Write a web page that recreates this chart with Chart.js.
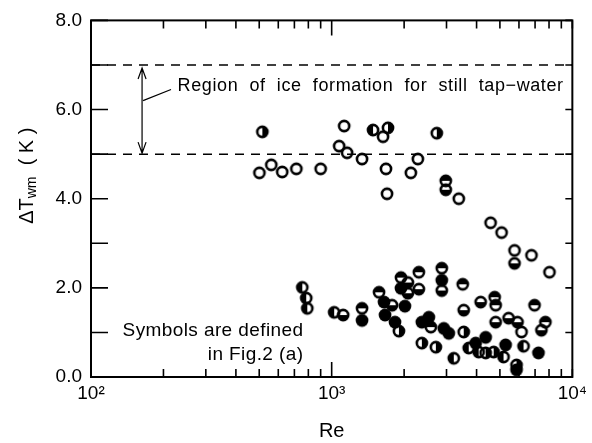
<!DOCTYPE html>
<html>
<head>
<meta charset="utf-8">
<script src="https://cdn.jsdelivr.net/npm/chart.js@4/dist/chart.umd.min.js"></script>
<style>
  body { margin: 0; background: #fff; }
  canvas { display: block; }
</style>
</head>
<body>
<canvas id="chart" width="592" height="443"></canvas>
<script>
// open circles
const reOpen = [501, 561, 623, 713, 900, 1127, 1074, 1159, 1337, 1634, 1681, 1698, 2133, 2280, 3374, 4575, 5083, 5750, 6762, 8035, 6150];
const dtOpen = [4.58, 4.76, 4.60, 4.67, 4.67, 5.63, 5.18, 5.03, 4.89, 5.39, 4.67, 4.11, 4.58, 4.89, 4.00, 3.46, 3.24, 2.84, 2.73, 2.35, 1.01];
// filled circles
const reFilled = [1650, 1666, 1832, 1940, 2015, 2370, 2533, 2868, 2923, 3066, 3966, 4363, 5279, 5863, 7231, 1337];
const dtFilled = [1.68, 1.39, 1.23, 1.99, 1.59, 1.23, 1.34, 2.17, 1.09, 0.98, 0.76, 0.89, 0.72, 0.16, 0.54, 1.27];
// half filled: top / bottom / left / right
const reTop = [2980, 2303, 2868, 3504, 1337, 1573, 4754, 6962, 7728, 1940, 2582, 4800];
const dtTop = [4.40, 2.35, 2.44, 2.08, 1.54, 1.90, 1.79, 1.61, 1.23, 2.23, 1.12, 1.61];
const reBottom = [2980, 5750, 1116, 1781, 2074, 2303, 2868, 4159, 4800, 5433, 5920, 7437, 3538, 2074];
const dtBottom = [4.20, 2.55, 1.39, 1.61, 1.88, 1.97, 1.94, 1.68, 1.23, 1.32, 1.23, 1.05, 1.50, 2.12];
const reLeft = [1485, 755, 784, 792, 1024, 3216, 3710, 4081, 5178, 6269];
const dtLeft = [5.54, 2.01, 1.77, 1.54, 1.45, 0.42, 0.65, 0.56, 0.45, 0.69];
const reRight = [515, 2734, 1903, 2370, 2709, 3538, 4363, 4709, 5863, 1714];
const dtRight = [5.50, 5.47, 1.03, 0.76, 0.67, 1.01, 0.54, 0.56, 0.27, 5.59];

// ice formation band limits
const iceLimits = [7, 5];
const reRange = [100, 10000];
const arrowRe = 163;

const xTicks = [100, 200, 300, 400, 500, 600, 700, 800, 900, 1000, 2000, 3000, 4000, 5000, 6000, 7000, 8000, 9000, 10000];
const xLabels = { 100: '10\u00b2', 1000: '10\u00b3', 10000: '10\u2074' };
const yTicks = [0, 1, 2, 3, 4, 5, 6, 7, 8];

function makeSymbol(kind) {
    const s = 18, m = s / 2, r = 5.1;
    const c = document.createElement('canvas');
    c.width = s; c.height = s;
    const g = c.getContext('2d');
    g.fillStyle = '#000';
    g.strokeStyle = '#000';
    if (kind === 'filled') {
        g.beginPath(); g.arc(m, m, r + 1.3, 0, 2 * Math.PI); g.fill();
        return c;
    }
    const arcs = {
        top: [Math.PI, 2 * Math.PI],
        bottom: [0, Math.PI],
        left: [Math.PI / 2, 1.5 * Math.PI],
        right: [-Math.PI / 2, Math.PI / 2],
    };
    if (arcs[kind]) {
        g.beginPath(); g.arc(m, m, r, arcs[kind][0], arcs[kind][1]); g.closePath(); g.fill();
    }
    g.beginPath(); g.arc(m, m, r, 0, 2 * Math.PI); g.lineWidth = 2.6; g.stroke();
    return c;
}

const pts = (xs, ys) => xs.map((x, i) => ({ x: x, y: ys[i] }));
const symbolSet = (xs, ys, kind) => ({
    data: pts(xs, ys),
    pointStyle: makeSymbol(kind),
    showLine: false,
});
const dashed = (y) => ({
    data: reRange.map(x => ({ x: x, y: y })),
    showLine: true,
    borderColor: '#000',
    borderWidth: 1.5,
    borderDash: [9, 7],
    pointRadius: 0,
});

// frame, inward ticks, arrow, notes, y title
const framePlugin = {
    id: 'frame',
    afterDraw(chart) {
        const { ctx, chartArea: a, scales: { x, y } } = chart;
        ctx.save();
        ctx.strokeStyle = '#000';
        ctx.fillStyle = '#000';
        ctx.lineWidth = 2;
        ctx.strokeRect(a.left, a.top, a.right - a.left, a.bottom - a.top);

        ctx.lineWidth = 1.6;
        ctx.beginPath();
        xTicks.forEach(v => {
            const px = x.getPixelForValue(v);
            const len = v === 1000 ? 15 : 8;
            ctx.moveTo(px, a.bottom); ctx.lineTo(px, a.bottom - len);
            ctx.moveTo(px, a.top); ctx.lineTo(px, a.top + len);
        });
        yTicks.forEach(v => {
            const py = y.getPixelForValue(v);
            ctx.moveTo(a.left, py); ctx.lineTo(a.left + 17, py);
            ctx.moveTo(a.right, py); ctx.lineTo(a.right - 7, py);
        });
        ctx.stroke();

        // double arrow between the dashed lines
        const ax = x.getPixelForValue(arrowRe);
        const y1 = y.getPixelForValue(iceLimits[0]) + 3;
        const y2 = y.getPixelForValue(iceLimits[1]) - 1;
        ctx.lineWidth = 1.2;
        ctx.beginPath();
        ctx.moveTo(ax, y1); ctx.lineTo(ax, y2);
        ctx.moveTo(ax - 4, y1 + 11); ctx.lineTo(ax, y1); ctx.lineTo(ax + 4, y1 + 11);
        ctx.moveTo(ax - 4, y2 - 11); ctx.lineTo(ax, y2); ctx.lineTo(ax + 4, y2 - 11);
        // leader to the note
        ctx.moveTo(ax + 1, y.getPixelForValue(6.2));
        ctx.lineTo(x.getPixelForValue(215), y.getPixelForValue(6.45));
        ctx.stroke();

        ctx.font = '18px "Liberation Sans", Arial, sans-serif';
        ctx.textBaseline = 'middle';
        ctx.textAlign = 'left';
        ctx.letterSpacing = '0.6px';
        ctx.fillText('Region  of  ice  formation  for  still  tap\u2212water', x.getPixelForValue(229), y.getPixelForValue(6.52));
        ctx.font = '19px "Liberation Sans", Arial, sans-serif';
        ctx.letterSpacing = '0.4px';
        ctx.textAlign = 'right';
        ctx.fillText('Symbols are defined', x.getPixelForValue(763), y.getPixelForValue(1.03));
        ctx.fillText('in Fig.2 (a)', x.getPixelForValue(763), y.getPixelForValue(0.51));
        ctx.letterSpacing = '0px';

        // y axis title with subscript
        ctx.translate(27, (a.top + a.bottom) / 2 - 23);
        ctx.rotate(-Math.PI / 2);
        ctx.textAlign = 'left';
        ctx.textBaseline = 'middle';
        const big = '20px "Liberation Sans", Arial, sans-serif';
        const small = '14px "Liberation Sans", Arial, sans-serif';
        ctx.font = big;
        const w1 = ctx.measureText('\u0394T').width;
        ctx.font = small;
        const w2 = ctx.measureText('wm').width;
        ctx.font = big;
        const w3 = ctx.measureText('  ( K )').width;
        let sx = -(w1 + w2 + w3) / 2;
        ctx.fillText('\u0394T', sx, 0);
        ctx.font = small;
        ctx.fillText('wm', sx + w1, 5);
        ctx.font = big;
        ctx.fillText('  ( K )', sx + w1 + w2, 0);
        ctx.restore();
    }
};

const config = {
    type: 'scatter',
    data: {
        datasets: [
            dashed(iceLimits[0]),
            dashed(iceLimits[1]),
            symbolSet(reOpen, dtOpen, 'open'),
            symbolSet(reFilled, dtFilled, 'filled'),
            symbolSet(reTop, dtTop, 'top'),
            symbolSet(reBottom, dtBottom, 'bottom'),
            symbolSet(reLeft, dtLeft, 'left'),
            symbolSet(reRight, dtRight, 'right'),
        ]
    },
    options: {
        responsive: false,
        animation: false,
        layout: { padding: { top: 19, right: 18, left: 0, bottom: 0 } },
        scales: {
            x: {
                type: 'logarithmic',
                min: reRange[0],
                max: reRange[1],
                grid: { display: false, drawTicks: false },
                border: { display: false },
                afterBuildTicks: (scale) => { scale.ticks = xTicks.map(v => ({ value: v })); },
                afterFit: (scale) => { scale.height = 66; },
                ticks: {
                    autoSkip: false,
                    maxRotation: 0,
                    padding: 5,
                    color: '#000',
                    font: { size: 19, family: '"Liberation Sans", Arial, sans-serif' },
                    callback: (v) => xLabels[v] || '',
                },
                title: {
                    display: true,
                    text: 'Re',
                    color: '#000',
                    padding: { top: 0, bottom: 0 },
                    font: { size: 20, family: '"Liberation Sans", Arial, sans-serif' },
                },
            },
            y: {
                min: 0,
                max: 8,
                grid: { display: false, drawTicks: false },
                border: { display: false },
                afterFit: (scale) => { scale.width = 91; },
                ticks: {
                    stepSize: 1,
                    padding: 9,
                    color: '#000',
                    font: { size: 19, family: '"Liberation Sans", Arial, sans-serif' },
                    callback: (v) => (v % 2 === 0 ? v.toFixed(1) : ''),
                },
            },
        },
        plugins: {
            legend: { display: false },
            tooltip: { enabled: false },
        },
    },
    plugins: [framePlugin],
};

const ctx = document.getElementById('chart').getContext('2d');
const chart = new Chart(ctx, config);
</script>
</body>
</html>
